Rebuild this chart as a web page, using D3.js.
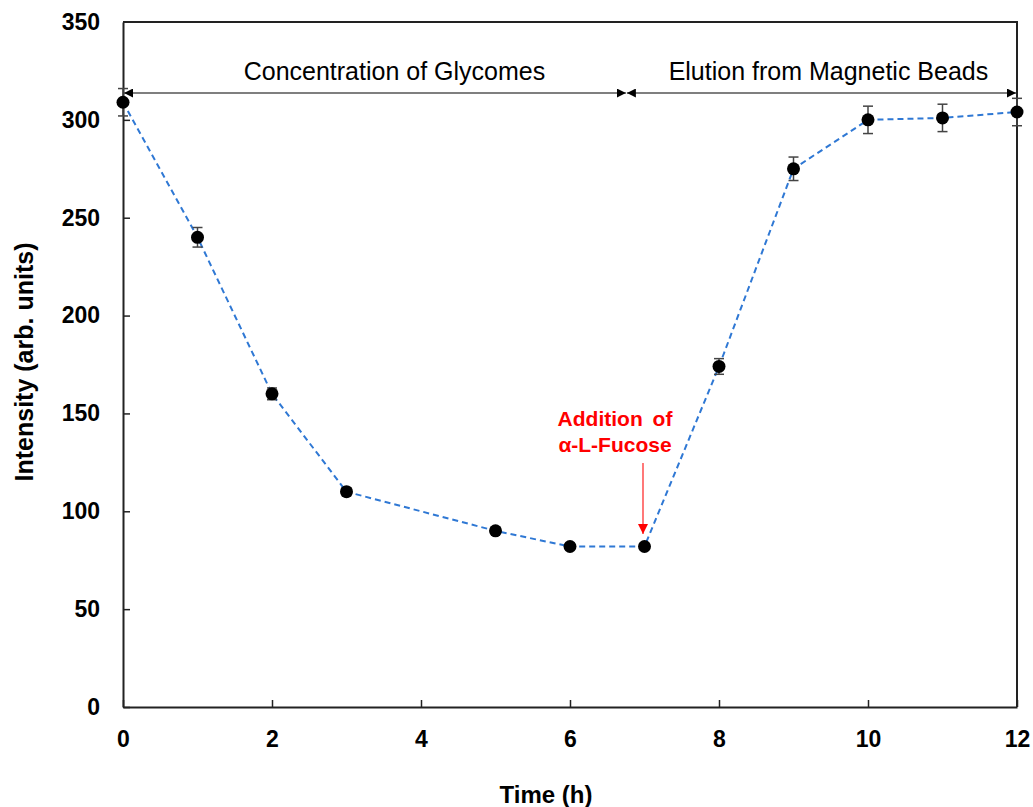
<!DOCTYPE html>
<html><head><meta charset="utf-8">
<script src="https://cdn.jsdelivr.net/npm/d3@7"></script>
<style>body{margin:0;background:#fff}svg{display:block}text{font-family:"Liberation Sans",Arial,sans-serif}</style>
</head><body>
<svg id="c" width="1033" height="807"></svg>
<script>
const times = [0,1,2,3,5,6,7,8,9,10,11,12];
const intensity = [309,240,160,110,90,82,82,174,275,300,301,304];
const errors = [7,5,3,2,1.5,1.5,1.5,4,6,7,7,7];
const xTicks = [0,2,4,6,8,10,12];
const yTicks = [0,50,100,150,200,250,300,350];
const phaseLabels = ["Concentration of Glycomes","Elution from Magnetic Beads"];
const phaseBounds = [[0,6.75],[6.75,12]];
const annotLines = ["Addition of","α-L-Fucose"];

const svg = d3.select("#c");
const m = {l:123, r:1017, t:22, b:707};
const x = d3.scaleLinear().domain([0,12]).range([m.l,m.r]);
const y = d3.scaleLinear().domain([0,350]).range([m.b,m.t]);

// frame
svg.append("path").attr("d",`M${m.l},${m.t}H${m.r}V${m.b}`).attr("fill","none").attr("stroke","#222").attr("stroke-width",2);

const yAxis = svg.append("g").attr("transform",`translate(${m.l},0)`)
  .call(d3.axisLeft(y).tickValues(yTicks).tickSizeInner(-7).tickSizeOuter(0).tickPadding(23));
const xAxis = svg.append("g").attr("transform",`translate(0,${m.b})`)
  .call(d3.axisBottom(x).tickValues(xTicks).tickSizeInner(-7).tickSizeOuter(0).tickPadding(24));
[yAxis,xAxis].forEach(a=>{
  a.select(".domain").attr("stroke","#222").attr("stroke-width",2);
  a.selectAll(".tick line").attr("stroke","#222").attr("stroke-width",1.5);
  a.selectAll(".tick text").attr("font-size",23).attr("font-weight","bold").attr("fill","#000")
   .attr("font-family","'Liberation Sans',Arial,sans-serif");
});
yAxis.selectAll(".tick").filter(d=>d===350).select("line").remove();

// axis titles
svg.append("text").attr("transform","translate(33,362) rotate(-90)").attr("text-anchor","middle")
  .attr("font-size",25).attr("font-weight","bold").text("Intensity (arb. units)");
svg.append("text").attr("x",546).attr("y",803).attr("text-anchor","middle")
  .attr("font-size",24).attr("font-weight","bold").text("Time (h)");

// phase arrows
const defs = svg.append("defs");
defs.append("marker").attr("id","ah").attr("viewBox","0 0 10 10").attr("refX",10).attr("refY",5)
  .attr("markerWidth",9).attr("markerHeight",9).attr("markerUnits","userSpaceOnUse").attr("orient","auto-start-reverse")
  .append("path").attr("d","M0,0L10,5L0,10Z").attr("fill","#000");
const ay = 93;
phaseBounds.forEach((b,i)=>{
  svg.append("line").attr("x1",x(b[0])+1).attr("x2",x(b[1])+(i===0?0:-1)).attr("y1",ay).attr("y2",ay)
    .attr("stroke","#555").attr("stroke-width",1.3)
    .attr("marker-start","url(#ah)").attr("marker-end","url(#ah)");
  svg.append("text").attr("x",(x(b[0])+x(b[1]))/2+(i===0?20:7)).attr("y",80).attr("text-anchor","middle")
    .attr("font-size",25).attr("fill","#000").text(phaseLabels[i]);
});

// dashed line
svg.append("path").datum(times.map((t,i)=>[t,intensity[i]]))
  .attr("d",d3.line().x(d=>x(d[0])).y(d=>y(d[1])))
  .attr("fill","none").attr("stroke","#2f78d4").attr("stroke-width",2).attr("stroke-dasharray","6,4");

// error bars
const eb = svg.append("g").attr("stroke","#444").attr("stroke-width",1.5);
times.forEach((t,i)=>{
  const cx=x(t), y1=y(intensity[i]+errors[i]), y2=y(intensity[i]-errors[i]);
  eb.append("line").attr("x1",cx).attr("x2",cx).attr("y1",y1).attr("y2",y2);
  eb.append("line").attr("x1",cx-5).attr("x2",cx+5).attr("y1",y1).attr("y2",y1);
  eb.append("line").attr("x1",cx-5).attr("x2",cx+5).attr("y1",y2).attr("y2",y2);
});

// points
svg.append("g").selectAll("circle").data(times).join("circle")
  .attr("cx",d=>x(d)).attr("cy",(d,i)=>y(intensity[i])).attr("r",6.5).attr("fill","#000");

// annotation
annotLines.forEach((s,i)=>{
  svg.append("text").attr("x",615).attr("y",426+i*26).attr("text-anchor","middle")
    .attr("font-size",21).attr("font-weight","bold").attr("fill","#ff0000").attr("word-spacing",4).text(s);
});
defs.append("marker").attr("id","rh").attr("viewBox","0 0 10 10").attr("refX",10).attr("refY",5)
  .attr("markerWidth",10).attr("markerHeight",10).attr("markerUnits","userSpaceOnUse").attr("orient","auto")
  .append("path").attr("d","M0,0L10,5L0,10Z").attr("fill","#ff0000");
svg.append("line").attr("x1",x(7)-1.5).attr("x2",x(7)-1.5).attr("y1",463).attr("y2",534)
  .attr("stroke","#ff3030").attr("stroke-width",1.3).attr("marker-end","url(#rh)");
</script>
</body></html>
